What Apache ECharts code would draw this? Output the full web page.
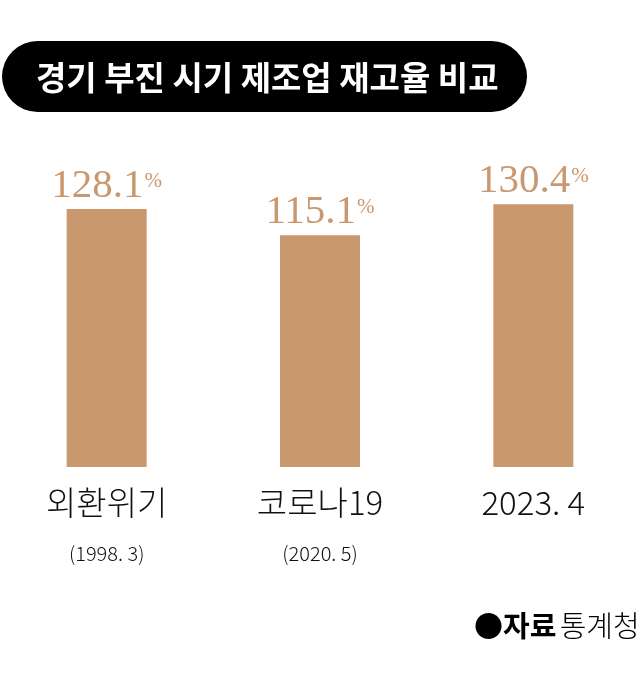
<!DOCTYPE html>
<html><head><meta charset="utf-8">
<script src="https://cdn.jsdelivr.net/npm/echarts@6/dist/echarts.min.js"></script>
<style>html,body{margin:0;padding:0;background:#fff}#c{width:640px;height:673px}</style>
</head><body><div id="c"></div>
<script>
const categories = ['외환위기', '코로나19', '2023. 4'];
const subLabels = ['(1998. 3)', '(2020. 5)', ''];
const values = [128.1, 115.1, 130.4];
const titleText = '경기 부진 시기 제조업 재고율 비교';
const sourceBold = '●자료';
const sourceText = '통계청';

const barColor = '#C9986F';
const chart = echarts.init(document.getElementById('c'));
chart.setOption({
  animation: false,
  backgroundColor: '#fff',
  grid: { left: 0, right: 0, top: 185, bottom: 206 },
  xAxis: {
    type: 'category', data: categories,
    axisLine: { show: false }, axisTick: { show: false },
    axisLabel: {
      margin: 15,
      formatter: function (v, i) {
        return subLabels[i] ? '{a|' + v + '}\n{b|' + subLabels[i] + '}' : '{a|' + v + '}';
      },
      rich: {
        a: { fontFamily: 'Noto Sans CJK KR', fontWeight: 300, fontSize: 33, lineHeight: 40, color: '#111' },
        b: { fontFamily: 'Noto Sans CJK KR', fontWeight: 300, fontSize: 20, lineHeight: 62, color: '#111' }
      }
    }
  },
  yAxis: { type: 'value', min: 0, max: 140, show: false, splitLine: { show: false } },
  series: [{
    type: 'bar', data: values, barWidth: 80,
    itemStyle: { color: barColor },
    label: {
      show: true, position: 'top', distance: 3,
      formatter: function (p) { return '{v|' + p.value.toFixed(1) + '}{p|%}'; },
      rich: {
        v: { fontFamily: 'Liberation Serif', fontSize: 41, lineHeight: 40, color: barColor },
        p: { fontFamily: 'Liberation Serif', fontSize: 21, lineHeight: 20, color: barColor, verticalAlign: 'top', padding: [5, 0, 0, 1] }
      }
    }
  }],
  graphic: [
    { type: 'rect', left: 2, top: 41, shape: { width: 525, height: 71, r: 35.5 }, style: { fill: '#000' } },
    { type: 'text', left: 36, top: 60.5, style: { text: titleText, fill: '#fff', font: 'bold 33px "Noto Sans CJK KR"' } },
    { type: 'text', left: 474, top: 611, style: {
      text: '{a|' + sourceBold + '} {b|' + sourceText + '}',
      rich: {
        a: { fontFamily: 'Noto Sans CJK KR', fontWeight: 'bold', fontSize: 29, fill: '#000' },
        b: { fontFamily: 'Noto Sans CJK KR', fontWeight: 300, fontSize: 29, fill: '#000' }
      } } }
  ]
});
</script></body></html>
